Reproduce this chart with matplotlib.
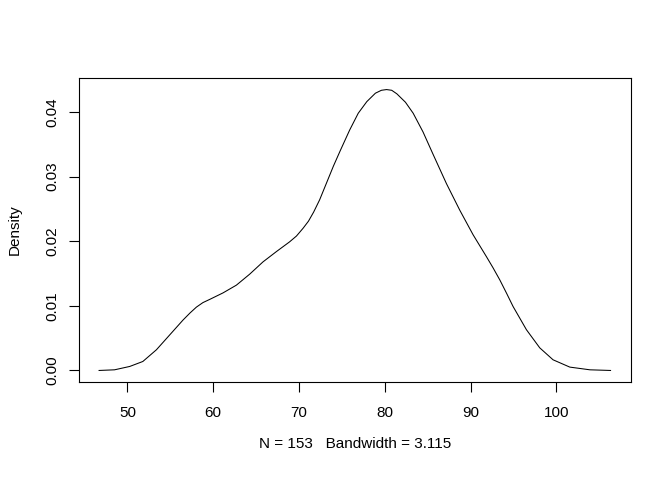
import numpy as np
import matplotlib.pyplot as plt

plt.rcParams['font.family'] = ['Liberation Sans', 'DejaVu Sans']

# densidade estimada (N = 153, bw = 3.115)
x_vals = [46.7, 48.5, 50.27, 51.8, 53.38, 54.93, 56.48, 57.3, 58.04, 58.8,
          59.6, 61.14, 62.7, 64.25, 65.8, 67.37, 68.9, 69.7, 70.47, 71.1,
          71.7, 72.4, 73.2, 74.0, 74.8, 75.9, 76.9, 77.9, 78.9, 79.6,
          80.2, 80.8, 81.4, 82.4, 83.3, 84.45, 85.6, 87.18, 88.73, 90.28,
          91.84, 92.6, 93.4, 94.2, 94.94, 96.5, 98.05, 99.6, 101.55, 103.9,
          106.3]
dens = [0.0, 0.0001, 0.00062, 0.00139, 0.0032, 0.0055, 0.0078, 0.0089, 0.0098, 0.0105,
        0.0110, 0.0120, 0.0132, 0.0149, 0.0168, 0.0184, 0.0199, 0.0208, 0.0220, 0.0231,
        0.0245, 0.0264, 0.0290, 0.0316, 0.0340, 0.0372, 0.0398, 0.0416, 0.0429, 0.04335,
        0.04346, 0.04335, 0.0428, 0.0415, 0.0398, 0.0369, 0.0335, 0.0289, 0.0248, 0.0210,
        0.0176, 0.0159, 0.0140, 0.0119, 0.0099, 0.0063, 0.0035, 0.00165, 0.00052, 0.0001,
        0.0]
x_ticks = [50, 60, 70, 80, 90, 100]
y_ticks = [0.00, 0.01, 0.02, 0.03, 0.04]

fig = plt.figure(figsize=(6.72, 4.8), dpi=100)
ax = fig.add_axes([0.117, 0.2048, 0.822, 0.632])
ax.plot(x_vals, dens, color='black', lw=0.75, solid_joinstyle='round')

# limites como no R (4% de folga)
xr = max(x_vals) - min(x_vals)
yr = max(dens) - min(dens)
ax.set_xlim(min(x_vals) - 0.04 * xr, max(x_vals) + 0.04 * xr)
ax.set_ylim(min(dens) - 0.04 * yr, max(dens) + 0.04 * yr)

ax.set_xticks(x_ticks)
ax.set_yticks(y_ticks)
ax.set_yticklabels([f'{v:.2f}' for v in y_ticks], rotation=90, va='center')
ax.tick_params(axis='both', direction='out', length=7, width=0.8, labelsize=11)
ax.tick_params(axis='x', pad=10.5)
ax.tick_params(axis='y', pad=7)
for s in ax.spines.values():
    s.set_linewidth(0.8)

ax.set_xlabel('N = 153   Bandwidth = 3.115', fontsize=11, labelpad=12)
ax.set_ylabel('Density', fontsize=11, labelpad=17)

fig.savefig('out.png', dpi=100)
